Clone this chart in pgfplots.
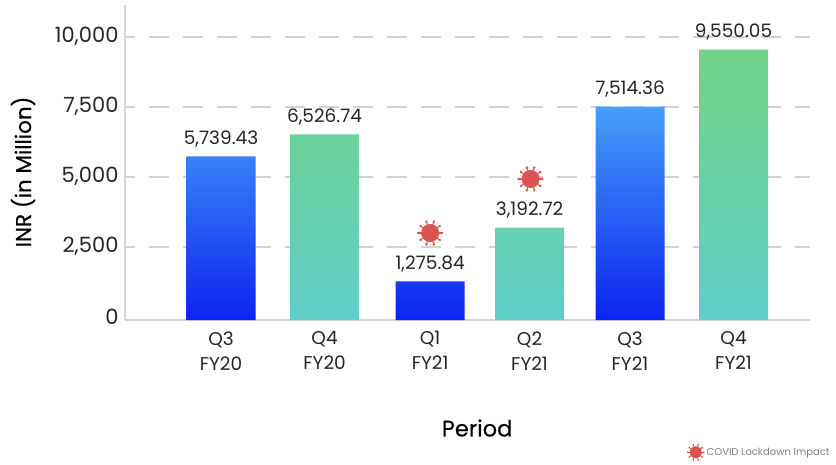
\documentclass[border=0pt]{standalone}
\usepackage{pgfplots}
\pgfplotsset{compat=1.18}
\usepackage{fontspec}
\setmainfont{Poppins}
\newfontfamily\labelfont[RawFeature={embolden=0.35}]{Poppins}
\definecolor{axc}{HTML}{D3D4DC}
\definecolor{gridc}{HTML}{D2D3DA}
\definecolor{txt}{HTML}{262626}
\definecolor{virusc}{HTML}{D9534F}
\definecolor{bluetop}{HTML}{469EF8}
\definecolor{bluebot}{HTML}{0A24F2}
\definecolor{greentop}{HTML}{70D386}
\definecolor{greenbot}{HTML}{5FCEC8}
\pgfdeclareplotmark{virus}{%
  \pgfpathcircle{\pgfpointorigin}{\pgfplotmarksize}%
  \pgfusepathqfill
  \pgfsetlinewidth{0.12\pgfplotmarksize}%
  \foreach \a in {0,36,...,324}{%
    \pgfpathmoveto{\pgfpointpolar{\a}{0.8\pgfplotmarksize}}%
    \pgfpathlineto{\pgfpointpolar{\a}{1.3\pgfplotmarksize}}%
    \pgfusepathqstroke
    \pgfpathcircle{\pgfpointpolar{\a}{1.33\pgfplotmarksize}}{0.15\pgfplotmarksize}%
    \pgfusepathqfill
  }%
}
\begin{document}
\begin{tikzpicture}[x=1pt,y=1pt]
\path[use as bounding box] (0,0) rectangle (836,464);
\begin{axis}[
  at={(125pt,144pt)}, anchor=south west,
  scale only axis, width=685pt, height=315pt,
  xmin=-0.937, xmax=5.746, ymin=-107, ymax=11143,
  y coord trafo/.code={\pgfmathparse{#1+107}},
  y coord inv trafo/.code={\pgfmathparse{#1-107}},
  axis x line=bottom, axis y line=left,
  axis line style={draw=axc, line width=1.6pt, -},
  clip=false,
  xtick={0,1.01,2.04,3.01,3.99,5},
  xticklabels={{Q3\\FY20},{Q4\\FY20},{Q1\\FY21},{Q2\\FY21},{Q3\\FY21},{Q4\\FY21}},
  xticklabel style={align=center, font=\fontsize{18.5}{25}\selectfont, text=txt, yshift=-8pt},
  ytick={2500,5000,7500,10000},
  yticklabels={2{,}500,5{,}000,7{,}500,10{,}000},
  extra y ticks={0},
  extra y tick labels={0},
  extra y tick style={grid=none},
  yticklabel style={font=\fontsize{21}{25}\selectfont, text=txt, xshift=-3pt, yshift=0.5pt},
  /pgf/number format/assume math mode=true,
  scaled y ticks=false,
  major tick length=0pt,
  ymajorgrids,
  grid style={draw=gridc, line width=1.4pt, dash pattern=on 20pt off 14pt, dash phase=10pt},
  xlabel={Period}, ylabel={INR (in Million)},
  xlabel style={font=\labelfont\fontsize{22.5}{26}\selectfont, text=black, at={(axis description cs:0.514,0)}, anchor=center, yshift=-108pt},
  ylabel style={font=\labelfont\fontsize{21.5}{26}\selectfont, text=black, at={(axis description cs:0,0.47)}, anchor=center, yshift=102pt},
  ybar, bar width=69pt, bar shift=0pt,
  point meta=rawy,
  nodes near coords,
  nodes near coords style={font=\fontsize{18.5}{22}\selectfont, text=txt,
    /pgf/number format/fixed, /pgf/number format/fixed zerofill, /pgf/number format/precision=2,
    /pgf/number format/assume math mode=true, /pgf/number format/1000 sep={,}, yshift=6pt},
  legend style={at={(axis description cs:0.82,-0.42)}, anchor=west, draw=none, fill=none,
    font=\fontsize{10}{12}\selectfont, text=gray, inner sep=0pt, /tikz/every even column/.append style={column sep=4pt}},
  legend cell align=left,
]
\addplot[draw=none, shade, shading=axis, top color=bluetop, bottom color=bluebot, forget plot]
  coordinates {(0,5739.43) (2.04,1275.84) (3.99,7514.36)};
\addplot[draw=none, shade, shading=axis, top color=greentop, bottom color=greenbot, forget plot]
  coordinates {(1.01,6526.74) (3.01,3192.72) (5,9550.05)};
\addplot[sharp plot, only marks, mark=virus, mark size=9pt, color=virusc, nodes near coords=\empty,
  legend image code/.code={\path[virusc, fill=virusc, draw=virusc] plot[mark=virus, mark size=6pt, only marks] coordinates {(0pt,0pt)};}]
  coordinates {(2.04,3000) (3.02,4930)};
\addlegendentry{COVID Lockdown Impact}
\end{axis}
\end{tikzpicture}
\end{document}
